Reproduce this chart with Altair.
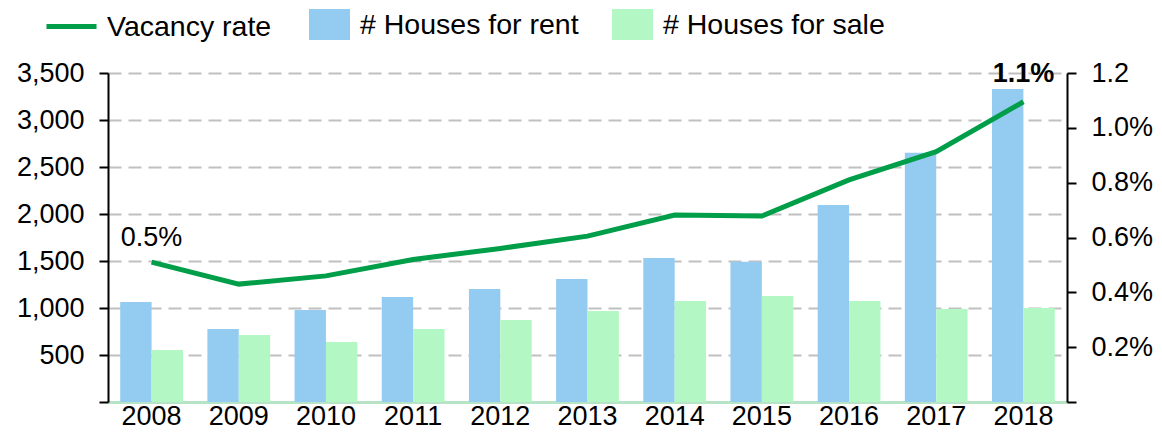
import altair as alt
import pandas as pd

# ---- data ----
years = ["2008", "2009", "2010", "2011", "2012", "2013", "2014", "2015", "2016", "2017", "2018"]
houses_for_rent = [1065, 777, 980, 1117, 1202, 1309, 1532, 1492, 2096, 2652, 3330]
houses_for_sale = [553, 713, 638, 777, 872, 968, 1074, 1128, 1074, 989, 1000]
vacancy_rate = [0.51, 0.43, 0.46, 0.52, 0.56, 0.605, 0.682, 0.678, 0.81, 0.913, 1.095]
rate_labels = ["0.5%", "", "", "", "", "", "", "", "", "", "1.1%"]
label_weight = ["normal", "", "", "", "", "", "", "", "", "", "bold"]

bar_series = ["# Houses for rent", "# Houses for sale"]
line_series = "Vacancy rate"
left_ticks = [0, 500, 1000, 1500, 2000, 2500, 3000, 3500]
right_ticks = [0, 0.2, 0.4, 0.6, 0.8, 1.0, 1.2]

FONT = "Liberation Sans"
BLUE = "#93ccf0"
MINT = "#b3f8c4"
GREEN = "#009e49"

bars_df = pd.DataFrame({
    "year": years * 2,
    "series": [bar_series[0]] * len(years) + [bar_series[1]] * len(years),
    "count": houses_for_rent + houses_for_sale,
})
line_df = pd.DataFrame({
    "year": years,
    "rate": vacancy_rate,
    "label": rate_labels,
    "weight": label_weight,
    "series": [line_series] * len(years),
})

x_axis = alt.Axis(
    title=None, labelAngle=0, ticks=False, grid=False,
    domainColor="#b7e4c7", domainWidth=3,
    labelFontSize=27, labelFont=FONT, labelColor="black",
    labelBaseline="alphabetic", labelPadding=22,
)
x_main = alt.X("year:N", sort=years,
               scale=alt.Scale(paddingInner=0.28, paddingOuter=0.14), axis=x_axis)
x_plain = alt.X("year:N", sort=years)

bars = alt.Chart(bars_df).mark_bar().encode(
    x=x_main,
    xOffset=alt.XOffset("series:N", sort=bar_series,
                        scale=alt.Scale(paddingInner=0, paddingOuter=0)),
    y=alt.Y("count:Q",
            scale=alt.Scale(domain=[0, 3500], nice=False),
            axis=alt.Axis(
                title=None, values=left_ticks,
                labelExpr="datum.value == 0 ? '' : format(datum.value, ',')",
                grid=True, gridDash=[13, 7], gridColor="#c0c0c0", gridWidth=2,
                gridOpacity=alt.condition("datum.value === 0", alt.value(0), alt.value(1)),
                domainColor="black", domainWidth=2,
                tickColor="black", tickWidth=2, tickSize=9,
                labelFontSize=27, labelFont=FONT, labelColor="black", labelPadding=15,
            )),
    color=alt.Color("series:N", sort=bar_series,
                    scale=alt.Scale(domain=bar_series, range=[BLUE, MINT]),
                    legend=alt.Legend(
                        title=None, orient="none", direction="horizontal",
                        legendX=201, legendY=-69, padding=0,
                        symbolType="M-1,-0.756H1V0.756H-1Z", symbolSize=1681,
                        symbolStrokeWidth=0, symbolOpacity=1,
                        labelFontSize=28.5, labelFont=FONT, labelColor="black",
                        labelOffset=10, labelLimit=400, columnPadding=33,
                    )),
)

line = alt.Chart(line_df).mark_line(strokeWidth=5).encode(
    x=x_plain,
    y=alt.Y("rate:Q",
            scale=alt.Scale(domain=[0, 1.2], nice=False),
            axis=alt.Axis(
                title=None, orient="right", values=right_ticks, grid=False,
                labelExpr="datum.value == 0 ? '' : (abs(datum.value - 1.2) < 1e-6 ? '1.2' : format(datum.value, '.1f') + '%')",
                domainColor="black", domainWidth=2,
                tickColor="black", tickWidth=2, tickSize=9,
                labelFontSize=27, labelFont=FONT, labelColor="black", labelPadding=15,
            )),
    stroke=alt.Stroke("series:N",
                      scale=alt.Scale(domain=[line_series], range=[GREEN]),
                      legend=alt.Legend(
                          title=None, orient="none", legendX=-64, legendY=-74, padding=0,
                          symbolType="stroke", symbolSize=2500, symbolStrokeWidth=5,
                          labelFontSize=28.5, labelFont=FONT, labelColor="black",
                          labelOffset=8, labelLimit=400,
                      )),
)

label_normal = alt.Chart(line_df).transform_filter(
    "datum.weight == 'normal'"
).mark_text(dy=-16, baseline="alphabetic", fontSize=27, font=FONT, color="black").encode(
    x=x_plain, y=alt.Y("rate:Q"), text="label:N"
)

label_bold = alt.Chart(line_df).transform_filter(
    "datum.weight == 'bold'"
).mark_text(dy=-20, baseline="alphabetic", fontSize=27, font=FONT, fontWeight="bold",
            color="black").encode(
    x=x_plain, y=alt.Y("rate:Q"), text="label:N"
)

right_layer = alt.layer(line, label_normal, label_bold)

chart = alt.layer(bars, right_layer).resolve_scale(
    y="independent"
).properties(
    width=959, height=329,
    padding={"left": 100, "top": 65, "right": 87, "bottom": 28},
    autosize=alt.AutoSizeParams(type="none"),
    background="white",
).configure_view(stroke=None)

chart.save("out.html", embed_options={"renderer": "svg", "actions": False})
